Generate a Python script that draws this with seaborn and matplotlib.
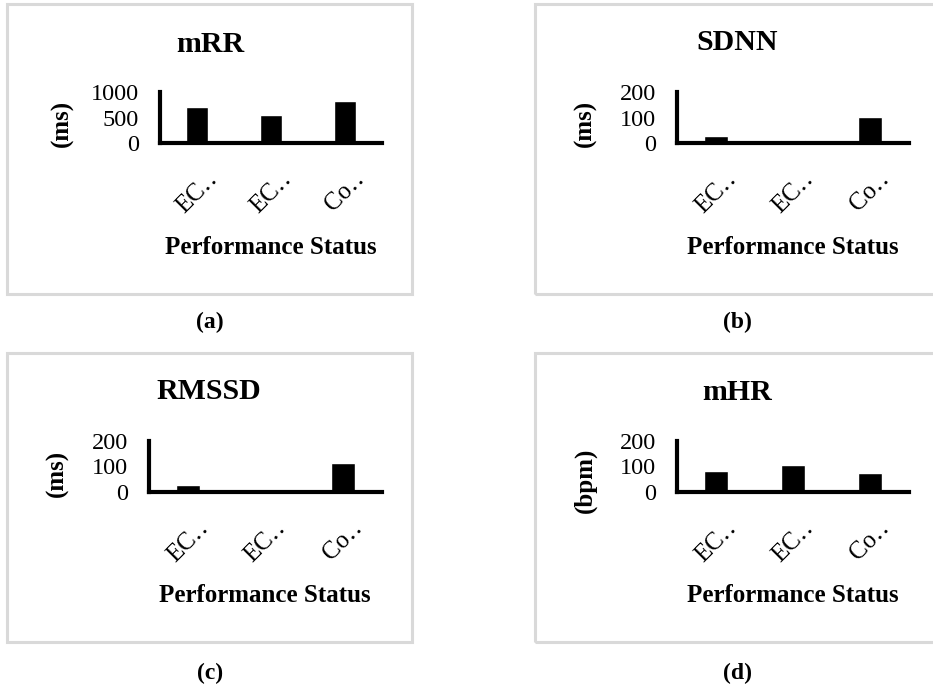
import matplotlib
matplotlib.use("Agg")
import matplotlib.pyplot as plt
from matplotlib.patches import Rectangle
import seaborn as sns
import pandas as pd

# ---- data ----
group_ids = ["g1", "g2", "g3"]
tick_labels = ["EC‥", "EC‥", "Co‥"]
mRR = [706, 550, 824]
SDNN = [28, 12, 101]
RMSSD = [26, 8, 114]
mHR = [84, 106, 74]

titles = ["mRR", "SDNN", "RMSSD", "mHR"]
units = ["(ms)", "(ms)", "(ms)", "(bpm)"]
captions = ["(a)", "(b)", "(c)", "(d)"]
yticks_list = [[0, 500, 1000], [0, 100, 200], [0, 100, 200], [0, 100, 200]]
xlabel_text = "Performance Status"

sns.set_theme(style="white")
plt.rcParams["font.family"] = ["Liberation Serif", "DejaVu Serif"]
for k in ["text.color", "axes.labelcolor", "xtick.color", "ytick.color"]:
    plt.rcParams[k] = "black"

W, H = 933, 685
fig = plt.figure(figsize=(W / 100, H / 100), dpi=100)

def fx(px):
    return px / W

def fy(py):
    return 1 - py / H

# layout per panel (pixels)
panels = [
    dict(box=(7, 4, 412, 294), ax=(160, 92, 382, 143), title=(210, 45), xl=(271, 247), yl=(62, 123), cap=(210, 322)),
    dict(box=(535, 4, 940, 294), ax=(677, 92, 909, 143), title=(737, 43), xl=(793, 247), yl=(585, 123), cap=(737, 322)),
    dict(box=(7, 353, 412, 642), ax=(149, 441, 382, 492), title=(209, 392), xl=(265, 595), yl=(57, 473), cap=(210, 673)),
    dict(box=(535, 353, 940, 642), ax=(677, 441, 909, 492), title=(737, 393), xl=(793, 595), yl=(585, 480), cap=(737, 673)),
]
series = [mRR, SDNN, RMSSD, mHR]

for i, p in enumerate(panels):
    bx0, by0, bx1, by1 = p["box"]
    rect = Rectangle((fx(bx0), fy(by1)), fx(bx1) - fx(bx0), fy(by0) - fy(by1),
                     transform=fig.transFigure, facecolor="none",
                     edgecolor="#d9d9d9", linewidth=2.2, zorder=-1)
    fig.patches.append(rect)

    l, t, r, b = p["ax"]
    ax = fig.add_axes([fx(l), fy(b), fx(r) - fx(l), fy(t) - fy(b)])
    ax.set_facecolor("none")
    df = pd.DataFrame({"group": group_ids, "value": series[i]})
    sns.barplot(data=df, x="group", y="value", color="black", width=0.31,
                saturation=1, ax=ax, zorder=2)
    ax.set_xlim(-0.5, 2.5)
    yt = yticks_list[i]
    ax.set_ylim(0, yt[-1])
    ax.set_yticks(yt)
    ax.set_yticklabels([str(v) for v in yt], fontsize=17.5)
    ax.set_xticks(range(3))
    ax.set_xticklabels(tick_labels, fontsize=18, rotation=45, ha="center", va="top")
    ax.tick_params(axis="x", length=0, pad=18)
    ax.tick_params(axis="y", length=0, pad=15)
    for s in ["top", "right"]:
        ax.spines[s].set_visible(False)
    for s in ["left", "bottom"]:
        ax.spines[s].set_color("black")
        ax.spines[s].set_linewidth(3)
    ax.spines["bottom"].set_zorder(3)

    w = r - l
    h = b - t
    ax.set_xlabel(xlabel_text, fontsize=18, fontweight="bold", va="center")
    ax.xaxis.set_label_coords((p["xl"][0] - l) / w, (b - p["xl"][1]) / h)
    ax.set_ylabel(units[i], fontsize=18, fontweight="bold", va="center", ha="center")
    ax.yaxis.set_label_coords((p["yl"][0] - l) / w, (b - p["yl"][1]) / h)

    fig.text(fx(p["title"][0]), fy(p["title"][1]), titles[i], fontsize=21.5,
             fontweight="bold", ha="center", va="center")
    fig.text(fx(p["cap"][0]), fy(p["cap"][1]), captions[i], fontsize=17,
             fontweight="bold", ha="center", va="center")

fig.savefig("out.png", dpi=100, facecolor="white")
